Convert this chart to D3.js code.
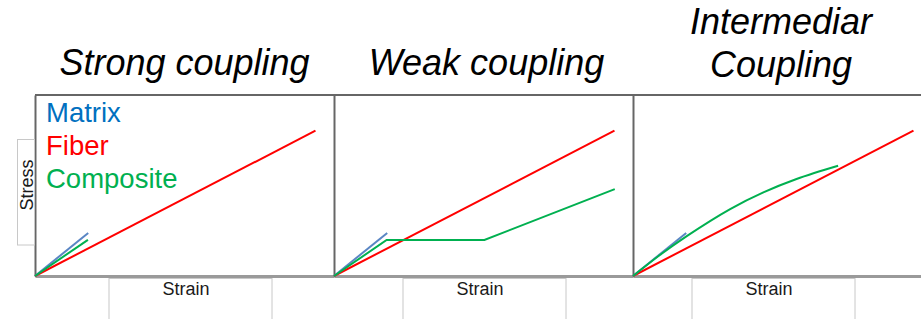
<!DOCTYPE html>
<html>
<head>
<meta charset="utf-8">
<script src="https://cdn.jsdelivr.net/npm/d3@7"></script>
<style>
  html, body { margin: 0; padding: 0; background: #fff; }
  svg { display: block; font-family: "Liberation Sans", Arial, sans-serif; }
</style>
</head>
<body>
<svg id="chart" width="921" height="319"></svg>
<script>
// panel titles (multi-line where the original wraps)
const panelTitles = [["Strong coupling"], ["Weak coupling"], ["Intermediar", "Coupling"]];
const legendLabels = ["Matrix", "Fiber", "Composite"];

// matrix and fiber curves are the same in every panel
const matrixStrain = [0, 1.78];
const matrixStress = [0, 2.38];
const fiberStrain = [0, 9.38];
const fiberStress = [0, 8.03];

// composite response per coupling type
const strongCompositeStrain = [0, 1.77];
const strongCompositeStress = [0, 2.0];
const weakCompositeStrain = [0, 1.76, 5.03, 9.39];
const weakCompositeStress = [0, 1.99, 1.99, 4.8];
const interCompositeStrain = [0, 0.9, 1.81, 3.25, 4.36, 5.47, 6.86];
const interCompositeStress = [0, 1.16, 2.22, 3.7, 4.62, 5.36, 6.09];

const compositeStrain = [strongCompositeStrain, weakCompositeStrain, interCompositeStrain];
const compositeStress = [strongCompositeStress, weakCompositeStress, interCompositeStress];

const colors = { matrix: "#5a86c4", fiber: "#ff0000", composite: "#00b050" };
const legendColors = ["#0070c0", "#ff0000", "#00b050"];

const zip = (xs, ys) => xs.map((x, i) => [x, ys[i]]);

const svg = d3.select("#chart");

const panelLeft = [35, 334, 633];
const panelW = 299;
const plotTop = 95, plotBottom = 276;
const strainBoxX = [109, 403, 692];
const titleX = [184.5, 486.5, 781];

const y = d3.scaleLinear().domain([0, 10]).range([plotBottom, plotTop]);

panelLeft.forEach((left, i) => {
  const x = d3.scaleLinear().domain([0, 10]).range([left, left + panelW]);
  const g = svg.append("g");

  // strain label box
  g.append("rect")
    .attr("x", strainBoxX[i]).attr("y", 278.5)
    .attr("width", 163).attr("height", 60)
    .attr("fill", "none").attr("stroke", "#c8c8c8");
  g.append("text")
    .attr("x", strainBoxX[i] + 77).attr("y", 295)
    .attr("text-anchor", "middle")
    .attr("font-size", 18).attr("fill", "#1a1a1a")
    .text("Strain");

  // frame
  g.append("line")
    .attr("x1", left).attr("x2", left + panelW)
    .attr("y1", plotTop).attr("y2", plotTop)
    .attr("stroke", "#666").attr("stroke-width", 2);
  g.append("g")
    .attr("transform", `translate(0,${plotBottom})`)
    .call(d3.axisBottom(x).tickValues([]).tickSizeOuter(0))
    .call(a => a.select(".domain").attr("stroke", "#9a9a9a").attr("stroke-width", 3));
  g.append("g")
    .attr("transform", `translate(${left},0)`)
    .call(d3.axisLeft(y).tickValues([]).tickSizeOuter(0))
    .call(a => a.select(".domain").attr("stroke", "#666").attr("stroke-width", 2));

  const line = d3.line().x(d => x(d[0])).y(d => y(d[1]));
  const curve = d3.line().x(d => x(d[0])).y(d => y(d[1])).curve(d3.curveCatmullRom);

  g.append("path")
    .attr("d", line(zip(fiberStrain, fiberStress)))
    .attr("fill", "none").attr("stroke", colors.fiber).attr("stroke-width", 2);
  g.append("path")
    .attr("d", line(zip(matrixStrain, matrixStress)))
    .attr("fill", "none").attr("stroke", colors.matrix).attr("stroke-width", 2);
  g.append("path")
    .attr("d", (i === 2 ? curve : line)(zip(compositeStrain[i], compositeStress[i])))
    .attr("fill", "none").attr("stroke", colors.composite).attr("stroke-width", 2);

  // title
  const lines = panelTitles[i];
  lines.forEach((t, k) => {
    svg.append("text")
      .attr("x", titleX[i])
      .attr("y", lines.length > 1 ? 34 + k * 43 : 75)
      .attr("text-anchor", "middle")
      .attr("font-size", 36).attr("font-style", "italic")
      .attr("fill", "#000")
      .text(t);
  });
});

// stress label box
svg.append("rect")
  .attr("x", 17.5).attr("y", 139.5)
  .attr("width", 17).attr("height", 105.5)
  .attr("fill", "none").attr("stroke", "#c8c8c8");
svg.append("text")
  .attr("transform", "translate(32.5,185) rotate(-90)")
  .attr("text-anchor", "middle")
  .attr("font-size", 18).attr("fill", "#1a1a1a")
  .text("Stress");

// legend in first panel
legendLabels.forEach((t, k) => {
  svg.append("text")
    .attr("x", 46).attr("y", 122 + k * 33)
    .attr("font-size", 27.5)
    .attr("fill", legendColors[k])
    .text(t);
});
</script>
</body>
</html>
